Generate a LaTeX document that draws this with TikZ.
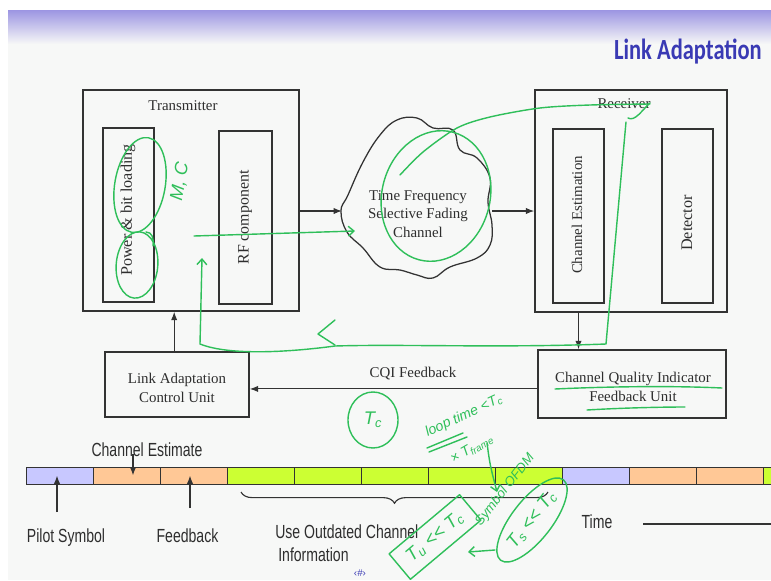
\documentclass[tikz,border=0pt]{standalone}
\usepackage{fontspec}
\setmainfont{Liberation Serif}
\setsansfont{Liberation Sans}
\newfontfamily\slidefont{Carlito}
\usetikzlibrary{shapes,arrows.meta,positioning,calc,decorations.pathreplacing}
\definecolor{darktext}{HTML}{2E2E2E}
\definecolor{boxline}{HTML}{333333}
\definecolor{slidebg}{HTML}{F7F8F7}
\definecolor{bandtop}{HTML}{9C95E2}
\definecolor{titleblue}{HTML}{3A3AB4}
\definecolor{pilotblue}{HTML}{C8C8FF}
\definecolor{estorange}{HTML}{FFC896}
\definecolor{oldgreen}{HTML}{CCFF33}
\definecolor{inkgreen}{HTML}{2FBF5A}
\tikzset{
  box/.style={draw=boxline, line width=1pt, inner sep=0pt},
  lbl/.style={font=\fontsize{10.6}{13.3}\selectfont, align=center, text=darktext},
  vlbl/.style={lbl, rotate=90},
  slbl/.style={font=\sffamily\fontsize{10}{12.2}\selectfont, yscale=1.35, inner sep=0pt, text=darktext},
  arr/.style={draw=boxline, line width=0.8pt, -{Latex[length=6pt,width=4.5pt]}},
  seg/.style={draw=boxline, line width=0.7pt, minimum width=1.675cm, minimum height=0.425cm, inner sep=0pt, anchor=west},
  ink/.style={draw=inkgreen, line width=1pt, line cap=round, line join=round},
  inkarr/.style={ink, -{Straight Barb[length=4pt,width=7pt]}},
  inktxt/.style={text=inkgreen, inner sep=1pt, font=\sffamily\itshape\fontsize{10}{12}\selectfont},
  inkbig/.style={text=inkgreen, font=\sffamily\itshape\fontsize{13}{15}\selectfont},
}
\begin{document}
\begin{tikzpicture}[x=0.025cm, y=-0.025cm]
\useasboundingbox (0,0) rectangle (771,580);
% slide background and title band
\fill[white] (0,0) rectangle (771,580);
\fill[slidebg] (8,10) rectangle (771,580);
\shade[top color=bandtop, bottom color=slidebg] (8,10) rectangle (771,44);
\node[anchor=base east, inner sep=0pt, text=titleblue, font=\slidefont\bfseries\fontsize{16}{18}\selectfont, yscale=1.3] (title) at (762,59) {Link Adaptation};

% transmitter
\node[box, minimum width=5.4cm, minimum height=5.525cm] (tx) at (191,200.5) {};
\node[lbl, anchor=base] (txname) at (183,110) {Transmitter};
\node[box, minimum width=1.275cm, minimum height=4.35cm] (pbl) at (128.5,215) {};
\node[vlbl, font=\fontsize{11.5}{13}\selectfont] at (128,210) {Power \& bit loading};
\node[box, minimum width=1.325cm, minimum height=4.325cm] (rf) at (245.5,217.5) {};
\node[vlbl, font=\fontsize{11.3}{13}\selectfont] at (245,217.5) {RF component};

% fading channel cloud
\draw[boxline, line width=0.9pt] plot[smooth cycle, tension=0.7] coordinates {
  (341,211) (348,195) (363,162) (380,135) (397,120) (417,118) (433,128)
  (453,130) (460,150) (477,158) (490,178) (488,202) (492,225) (490,245)
  (477,258) (450,267) (433,278) (417,275) (400,270) (380,267) (363,248) (347,232)};
\coordinate (chanW) at (342,211);
\coordinate (chanE) at (492,211);
\node[lbl] (chan) at (418,214) {Time Frequency\\Selective Fading\\Channel};

% receiver
\node[box, minimum width=4.8cm, minimum height=5.55cm] (rx) at (631,201) {};
\node[lbl, anchor=base] (rxname) at (624,108) {Receiver};
\node[box, minimum width=1.275cm, minimum height=4.35cm] (ce) at (578.5,216) {};
\node[vlbl] at (577,215) {Channel Estimation};
\node[box, minimum width=1.275cm, minimum height=4.35cm] (det) at (687.5,216) {};
\node[vlbl, font=\fontsize{11.5}{13}\selectfont] at (687,223) {Detector};

% feedback loop
\node[box, minimum width=4.7cm, minimum height=1.7cm] (cqi) at (632,384) {};
\node[lbl] at (633,387) {Channel Quality Indicator\\Feedback Unit};
\node[box, minimum width=3.6cm, minimum height=1.625cm] (lac) at (177,384.5) {};
\node[lbl] at (177,388) {Link Adaptation\\Control Unit};
\node[lbl, anchor=base] (cqilbl) at (413,377) {CQI Feedback};

\draw[arr] (tx.east |- chanW) -- (chanW);
\draw[arr] (chanE) -- (rx.west |- chanE);
\draw[arr] (ce |- rx.south) -- (ce |- cqi.north);
\draw[arr] ([yshift=-3.5pt]cqi.west) -- ([yshift=-3.5pt]cqi.west -| lac.east);
\draw[arr] ([xshift=-2pt]lac.north) -- ([xshift=-2pt]lac.north |- tx.south);

% frame timeline
\foreach \col [count=\i from 0] in {pilotblue,estorange,estorange,oldgreen,oldgreen,oldgreen,oldgreen,oldgreen,pilotblue,estorange,estorange,oldgreen}
  \node[seg, fill=\col] (s\i) at (26+67*\i,475.5) {};

\node[slbl, anchor=base] (chest) at (147,456) {Channel Estimate};
\node[slbl, anchor=base] (pilot) at (66,542) {Pilot Symbol};
\node[slbl, anchor=base] (fb) at (187.5,542) {Feedback};
\node[slbl, anchor=base west] (useA) at (275,538) {Use Outdated Channel};
\node[slbl, anchor=base west] (useB) at (278,561) {Information};
\node[slbl, anchor=base] (time) at (597,528) {Time};
\coordinate (chestTail) at (133,454);
\coordinate (pilotTail) at (57,512);
\coordinate (fbTail) at (190,508);
\coordinate (timeStart) at (643,524);
\coordinate (timeEnd) at (771,524);
\draw[arr] (chestTail) -- (chestTail |- s1.center);
\draw[arr] (pilotTail) -- (pilotTail |- s0.center);
\draw[arr] (fbTail) -- (fbTail |- s2.center);
\draw[boxline, line width=0.8pt] (timeStart) -- (timeEnd);
\draw[boxline, line width=0.8pt, decorate, decoration={brace, mirror, amplitude=8pt}] (241,492) -- (548,492);
\node[text=titleblue, font=\sffamily\fontsize{7}{8}\selectfont] (pageno) at (360,573) {\guilsinglleft\#\guilsinglright};

% green ink notes
\draw[ink, rotate around={-10:(140,185)}] (140,185) ellipse (0.63cm and 1.2cm);
\draw[ink, rotate around={-5:(137,265)}] (137,265) ellipse (0.52cm and 0.83cm);
\draw[ink] (146,232) .. controls (152,232) and (154,238) .. (153,246);
\node[inkbig, rotate=80] (mc) at (180,182) {M, C};
\coordinate (rfTip) at (355,231);
\draw[inkarr] (194,236) -- (rfTip);
\draw[ink, rotate around={-15:(436,196)}] (436,196) ellipse (1.35cm and 1.65cm);
\draw[ink] plot[smooth] coordinates {(400,175) (423,152) (457,128) (490,117) (540,108) (590,105) (650,104)};
\draw[ink] (628,118) .. controls (635,122) and (642,110) .. (650,103);
\coordinate (loopTop) at (626,122);
\coordinate (loopTip) at (202,258);
\draw[inkarr] (loopTop) -- (606,344) .. controls (500,348) and (400,344) .. (335,346)
  .. controls (290,352) and (230,356) .. (200,344) -- (loopTip);
\draw[ink] (335,320) -- (318,334) -- (335,345);
\draw[ink] (555,389) .. controls (620,386) and (680,386) .. (722,388);
\draw[ink] (587,410) .. controls (620,408) and (660,407) .. (685,407);

\node[ink, ellipse, inner sep=0pt, minimum width=1.25cm, minimum height=1.4cm, inkbig] (tc) at (373,420) {T\textsubscript{c}};
\node[inktxt, rotate=25] (loop) at (464,416) {loop time <{}T\textsubscript{c}};
\draw[ink] (427,448) -- (463,433);
\draw[ink] (429,452) -- (467,437);
\node[inktxt, rotate=30] (frame) at (472,449) {× T\textsubscript{frame}};
\coordinate (frameTail) at (487,443);
\coordinate (frameTip) at (497,492);
\draw[inkarr] (frameTail) .. controls (490,465) .. (frameTip);
\node[ink, rectangle, rotate=40, inner sep=0pt, minimum width=2.3cm, minimum height=0.83cm, inkbig] (tu) at (435,537) {T\textsubscript{u} <{}< T\textsubscript{c}};
\node[ink, ellipse, rotate=52, inner sep=0pt, minimum width=2.55cm, minimum height=1.0cm, inkbig] (ts) at (532,520) {T\textsubscript{s} <{}< T\textsubscript{c}};
\node[inktxt, rotate=52, font=\sffamily\itshape\fontsize{9.5}{11}\selectfont] (ofdm) at (505,490) {Symbol OFDM};
\coordinate (tsTail) at (495,550);
\coordinate (tsTip) at (468,552);
\draw[inkarr] (tsTail) -- (tsTip);
\end{tikzpicture}
\end{document}
